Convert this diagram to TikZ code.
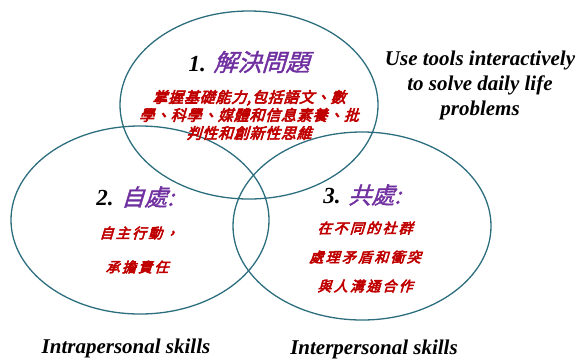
\documentclass[tikz,border=0pt]{standalone}
\usepackage{fontspec}
\setmainfont{Liberation Serif}
\newfontfamily\cjk[FakeSlant=0.3,FakeBold=1.5]{Noto Sans CJK TC}
\newfontfamily\cjkb[FakeSlant=0.3,FakeBold=4,LetterSpace=5]{Noto Sans CJK TC}
\newfontfamily\cjkw[FakeSlant=0.3,FakeBold=4,LetterSpace=16]{Noto Sans CJK TC}
\usetikzlibrary{shapes.geometric, positioning}
\definecolor{ringc}{RGB}{44,110,126}
\definecolor{headc}{RGB}{112,48,160}
\definecolor{redc}{RGB}{192,0,0}

\begin{document}
\begin{tikzpicture}[x=1pt, y=-1pt]
\tikzset{ring/.style={draw=ringc, line width=1.3pt, ellipse, minimum width=258pt, minimum height=188pt, inner sep=0pt},
  title/.style={font=\bfseries\itshape\fontsize{23}{26}\selectfont, inner sep=0pt},
  detail/.style={text=redc, font=\cjkb\fontsize{15}{18}\selectfont, align=center, inner sep=0pt},
  detailw/.style={text=redc, font=\cjkw\fontsize{14}{16}\selectfont, inner sep=0pt},
  skill/.style={font=\bfseries\itshape\fontsize{21}{25}\selectfont, align=center, inner sep=0pt}}
\useasboundingbox (0,0) rectangle (585,360);
\node[ring] (P) at (249,105) {};
\node[ring] (S) at (140,220) {};
\node[ring] (O) at (362,226) {};

\node[title] (T1) at (249,62) {1. {\color{headc}\cjk\mdseries\fontsize{24}{26}\selectfont 解決問題}};
\node[detail] (D1) at (249,115) {掌握基礎能力,包括語文、數\\學、科學、媒體和信息素養、批\\判性和創新性思維};

\node[title] (T2) at (135,197) {2. {\color{headc}\cjk\mdseries 自處:}};
\node[detailw] (D2a) at (139,233) {自主行動，};
\node[detailw] (D2b) at (137,267) {承擔責任};

\node[title] (T3) at (362,195) {3. {\color{headc}\cjk\mdseries 共處:}};
\node[detailw] (D3a) at (365,228) {在不同的社群};
\node[detailw] (D3b) at (365,257) {處理矛盾和衝突};
\node[detailw] (D3c) at (365,286) {與人溝通合作};

\node[skill] (U) at (480,85) {Use tools interactively\\to solve daily life\\problems};
\node[skill] (K1) at (126,348) {Intrapersonal skills};
\node[skill] (K2) at (374,349) {Interpersonal skills};
\end{tikzpicture}
\end{document}
